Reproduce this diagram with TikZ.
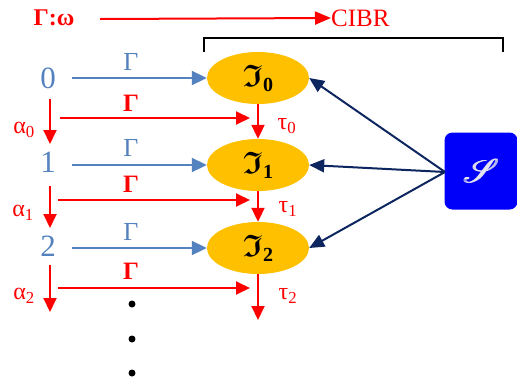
\documentclass[tikz,border=0pt]{standalone}
\usepackage{amsmath,amssymb}
\usepackage{mathrsfs}
\usepackage{graphicx}
\usepackage{fontspec}
\setmainfont{Liberation Serif}
\usetikzlibrary{arrows.meta,shapes.geometric}
\definecolor{myred}{RGB}{255,0,0}
\definecolor{myblue}{RGB}{84,130,190}
\definecolor{navy}{RGB}{14,38,96}
\definecolor{gold}{RGB}{255,192,0}
\definecolor{boxblue}{RGB}{0,0,250}
\definecolor{paleS}{RGB}{228,228,240}
\newcommand{\frakI}[1]{\scalebox{1.25}{$\boldsymbol{\mathfrak{I}}$}{\fontsize{20}{20}\selectfont\raisebox{-5pt}{\textbf{#1}}}}
\newcommand{\boldscrS}{\scalebox{3.3}{\rlap{$\mathscr{S}$}\hspace{0.3pt}\rlap{$\mathscr{S}$}\hspace{0.3pt}$\mathscr{S}$}}
\tikzset{
  num/.style={text=myblue,font=\fontsize{31}{32}\selectfont,inner sep=0pt},
  ell/.style={ellipse,fill=gold,minimum width=102pt,minimum height=52pt,inner sep=0pt,font=\fontsize{24.88}{26}\selectfont},
  bluearr/.style={myblue,line width=2pt,-{Triangle[width=14pt,length=15pt]}},
  redarr/.style={myred,line width=2pt,-{Triangle[width=13pt,length=14pt]}},
  navyarr/.style={navy,line width=2pt,-{Triangle[width=13pt,length=15pt]}},
  bgam/.style={text=myblue,font=\fontsize{26}{27}\selectfont,inner sep=0pt},
  rgam/.style={text=myred,font=\bfseries\fontsize{25}{26}\selectfont,inner sep=0pt},
  rlab/.style={text=myred,font=\fontsize{24}{26}\selectfont,inner sep=0pt},
  dot/.style={circle,fill=black,inner sep=0pt,minimum size=7pt}
}
\begin{document}
\begin{tikzpicture}[x=1pt,y=-1pt]
\useasboundingbox (0,0) rectangle (517,384);
% top line
\node[text=myred,font=\bfseries\fontsize{24}{25}\selectfont,inner sep=0pt] (go) at (54,18) {Γ:ω};
\node[text=myred,font=\fontsize{25}{26}\selectfont,inner sep=0pt,anchor=west] (cibr) at (331,18) {CIBR};
\draw[myred,line width=2pt,-{Triangle[width=13pt,length=16pt]}] (100,19) -- (cibr.west);
% bracket
\draw[black,line width=1.5pt] (204,52) -- (204,38) -- (503,38) -- (503,52);
% ellipses
\node[ell] (e0) at (258,78) {\frakI{0}};
\node[ell] (e1) at (258,165) {\frakI{1}};
\node[ell] (e2) at (258,248) {\frakI{2}};
% numbers
\node[num] (n0) at (48,78) {0};
\node[num] (n1) at (48,162) {1};
\node[num] (n2) at (48,246) {2};
% blue arrows
\draw[bluearr] (72,78) -- (e0.west);
\draw[bluearr] (72,165) -- (e1.west);
\draw[bluearr] (72,248) -- (e2.west);
\node[bgam] (g0) at (131,62) {Γ};
\node[bgam] (g1) at (131,148) {Γ};
\node[bgam] (g2) at (131,232) {Γ};
% red vertical arrows on the left
\coordinate (a0s) at (50,99);  \coordinate (a0e) at (50,144);
\coordinate (a1s) at (50,186); \coordinate (a1e) at (50,228);
\coordinate (a2s) at (50,265); \coordinate (a2e) at (50,312);
\draw[redarr] (a0s) -- (a0e);
\draw[redarr] (a1s) -- (a1e);
\draw[redarr] (a2s) -- (a2e);
\node[rlab] (al0) at (24,130) {α\textsubscript{0}};
\node[rlab] (al1) at (23,213) {α\textsubscript{1}};
\node[rlab] (al2) at (24,296) {α\textsubscript{2}};
% red horizontal arrows
\coordinate (h0s) at (60,118);  \coordinate (h0e) at (250,118);
\coordinate (h1s) at (58,200);  \coordinate (h1e) at (250,200);
\coordinate (h2s) at (58,288);  \coordinate (h2e) at (250,288);
\draw[redarr] (h0s) -- (h0e);
\draw[redarr] (h1s) -- (h1e);
\draw[redarr] (h2s) -- (h2e);
\node[rgam] (r0) at (131,103) {Γ};
\node[rgam] (r1) at (131,184) {Γ};
\node[rgam] (r2) at (131,271) {Γ};
% red vertical arrows between ellipses
\coordinate (t2e) at (258,320);
\draw[redarr] (e0.south) -- (e1.north);
\draw[redarr] (e1.south) -- (e2.north);
\draw[redarr] (e2.south) -- (t2e);
\node[rlab] (t0) at (287,126) {τ\textsubscript{0}};
\node[rlab] (t1) at (288,209) {τ\textsubscript{1}};
\node[rlab] (t2) at (288,296) {τ\textsubscript{2}};
% dots
\node[dot] (d0) at (132,304) {};
\node[dot] (d1) at (132,339) {};
\node[dot] (d2) at (132,373) {};
% S box
\node[fill=boxblue,rounded corners=8pt,minimum width=73pt,minimum height=77pt,inner sep=0pt,text=paleS] (S) at (481,171) {\boldscrS};
\coordinate (sp) at (445,172);
\draw[navyarr] (sp) -- (e0.east);
\draw[navyarr] (sp) -- (e1.east);
\draw[navyarr] (sp) -- (e2.east);
\end{tikzpicture}
\end{document}
